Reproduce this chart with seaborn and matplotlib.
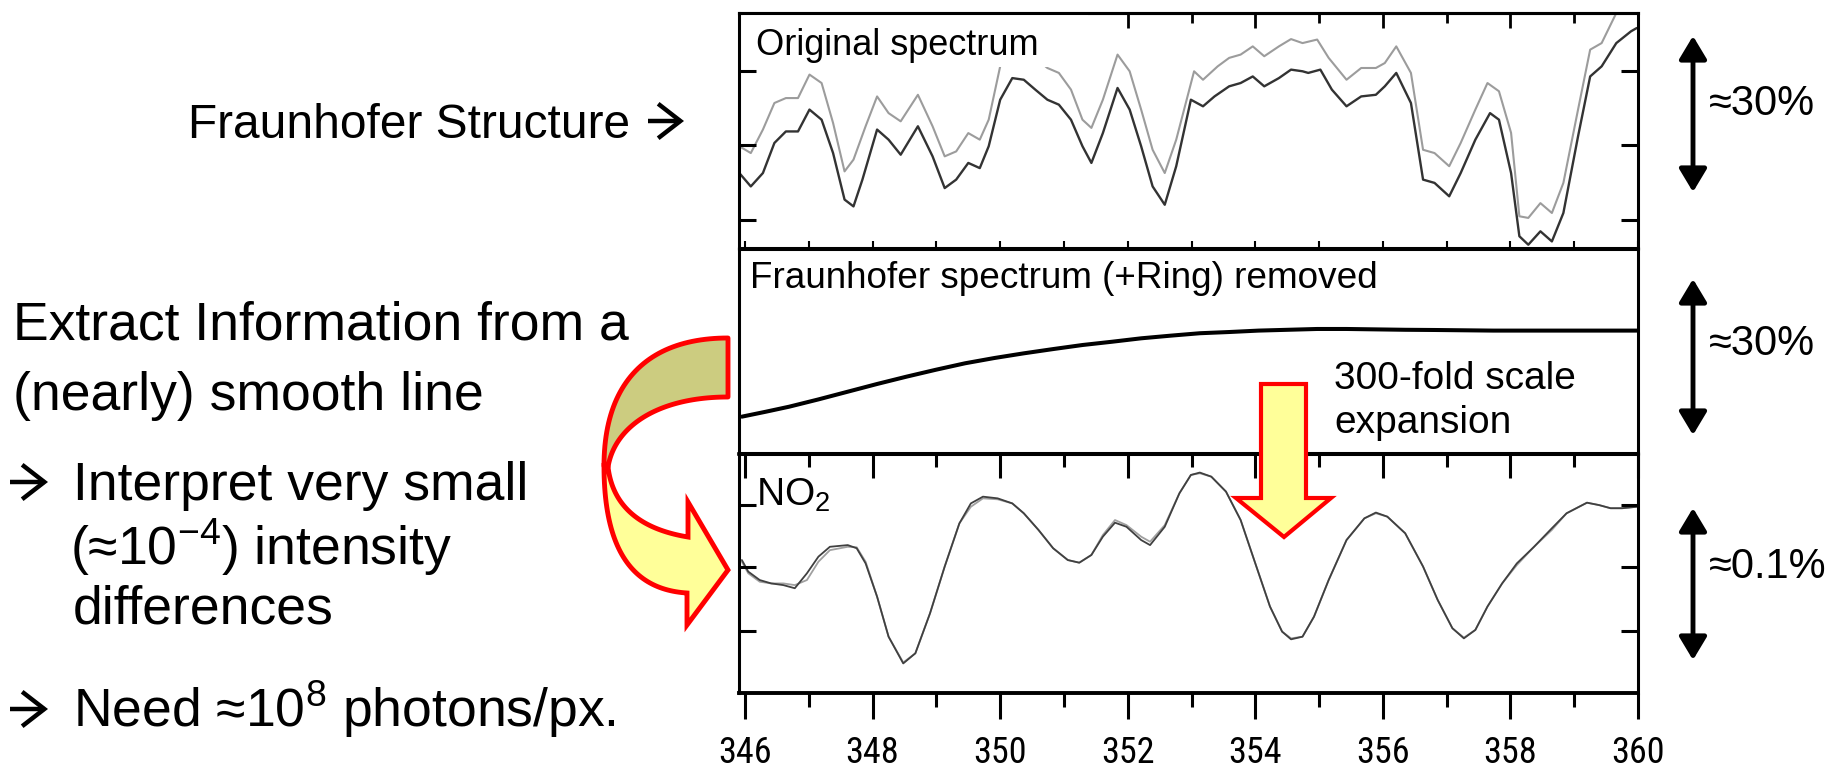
import numpy as np
import matplotlib
matplotlib.use("Agg")
import matplotlib.pyplot as plt
from matplotlib import font_manager as fm
from matplotlib.font_manager import FontProperties
from matplotlib.patches import Polygon, Rectangle
from matplotlib.ticker import NullFormatter
from math import comb
import seaborn as sns

# ---------------- data ----------------
# Panel 1: original spectrum (dark = measured, light = reference), relative units
wl_orig = [345.91, 346.09, 346.28, 346.46, 346.64, 346.83, 347.01, 347.20, 347.38, 347.56,
           347.70, 347.84, 348.07, 348.25, 348.44, 348.71, 348.94, 349.13, 349.31, 349.50,
           349.68, 349.82, 350.00, 350.19, 350.37, 350.55, 350.74, 350.92, 351.11, 351.29,
           351.43, 351.61, 351.84, 352.03, 352.21, 352.39, 352.58, 352.76, 352.99, 353.18,
           353.36, 353.59, 353.77, 353.96, 354.14, 354.37, 354.56, 354.74, 354.83, 355.02,
           355.20, 355.43, 355.66, 355.89, 356.03, 356.21, 356.44, 356.63, 356.81, 357.04,
           357.22, 357.45, 357.68, 357.82, 358.01, 358.14, 358.28, 358.47, 358.65, 358.83,
           359.06, 359.25, 359.43, 359.66, 359.89, 359.98]
orig_dark = [31.9, 26.2, 31.9, 44.7, 49.6, 49.6, 58.9, 54.6, 40.4, 20.6,
             17.7, 29.1, 50.4, 46.1, 39.7, 51.8, 39.0, 25.5, 29.1, 36.2,
             34.0, 43.3, 63.1, 72.3, 71.6, 67.4, 63.1, 61.0, 54.6, 43.3,
             36.2, 48.9, 68.1, 58.9, 43.3, 26.2, 18.4, 34.8, 63.1, 60.3,
             64.5, 68.8, 70.2, 73.0, 68.8, 72.3, 75.9, 75.2, 74.5, 75.9,
             67.4, 60.3, 64.5, 65.2, 68.8, 74.5, 61.7, 29.1, 27.7, 22.0,
             31.9, 46.1, 57.4, 54.6, 31.9, 5.0, 1.4, 7.1, 2.8, 14.9,
             47.5, 73.0, 77.3, 87.2, 92.2, 93.6]
wl_orig_light = [345.91, 346.09, 346.28, 346.46, 346.64, 346.83, 347.01, 347.20, 347.38, 347.56,
                 347.70, 347.89, 348.07, 348.25, 348.44, 348.71, 348.94, 349.13, 349.31, 349.50,
                 349.68, 349.82, 350.00, 350.19, 350.37, 350.55, 350.74, 350.92, 351.11, 351.29,
                 351.43, 351.61, 351.84, 352.03, 352.21, 352.39, 352.58, 352.76, 353.04, 353.18,
                 353.41, 353.59, 353.77, 353.96, 354.14, 354.37, 354.56, 354.74, 354.97, 355.15,
                 355.43, 355.66, 355.89, 356.03, 356.21, 356.44, 356.63, 356.81, 357.04, 357.22,
                 357.45, 357.64, 357.82, 358.01, 358.14, 358.28, 358.47, 358.65, 358.83, 359.06,
                 359.25, 359.43, 359.66, 359.85]
orig_light = [43.3, 40.4, 50.4, 61.7, 63.8, 63.8, 73.8, 70.2, 53.2, 32.6,
              37.6, 51.8, 64.5, 57.4, 53.9, 65.2, 51.8, 39.0, 41.1, 48.9,
              46.1, 54.6, 77.3, 85.8, 85.1, 80.9, 76.6, 74.5, 67.4, 54.6,
              51.1, 63.1, 82.3, 75.2, 58.9, 41.8, 31.9, 46.1, 75.2, 71.6,
              77.3, 80.9, 82.3, 85.8, 81.6, 85.8, 88.9, 87.2, 88.7, 80.9,
              71.6, 76.6, 76.6, 78.7, 85.8, 74.5, 41.8, 40.4, 34.8, 44.7,
              58.9, 70.2, 66.7, 49.0, 13.5, 12.8, 19.1, 14.9, 27.7, 58.9,
              84.4, 87.2, 100.0, 109.9]

# Panel 2: Fraunhofer spectrum (+Ring) removed
wl_resid = [345.95, 346.32, 346.69, 347.15, 347.61, 348.07, 348.53, 348.99, 349.45, 349.91,
            350.37, 350.83, 351.29, 351.75, 352.21, 352.67, 353.13, 353.59, 354.05, 354.51,
            354.97, 355.43, 355.89, 356.35, 356.81, 357.73, 358.65, 359.98]
resid = [17.9, 20.3, 22.8, 26.4, 30.2, 34.0, 37.6, 41.0, 44.2, 46.8,
         49.1, 51.2, 53.2, 54.8, 56.5, 57.8, 59.0, 59.6, 60.3, 60.7,
         61.1, 61.1, 60.9, 60.7, 60.6, 60.3, 60.3, 60.3]

# Panel 3: NO2 (measured and fitted)
wl_no2 = [345.95, 346.05, 346.23, 346.41, 346.60, 346.78, 346.97, 347.15, 347.33, 347.61,
          347.75, 347.89, 348.07, 348.25, 348.48, 348.67, 348.90, 349.13, 349.36, 349.54,
          349.73, 349.96, 350.19, 350.37, 350.60, 350.83, 351.06, 351.24, 351.43, 351.61,
          351.80, 351.98, 352.21, 352.35, 352.58, 352.81, 352.99, 353.13, 353.31, 353.54,
          353.77, 354.00, 354.23, 354.42, 354.56, 354.74, 354.92, 355.15, 355.43, 355.71,
          355.89, 356.07, 356.35, 356.63, 356.86, 357.09, 357.27, 357.45, 357.64, 357.87,
          358.10, 358.37, 358.65, 358.88, 359.20, 359.39, 359.57, 359.75, 359.98]
no2_meas = [56.0, 51.2, 47.7, 46.3, 45.6, 44.3, 50.5, 57.4, 61.5, 62.2,
            60.9, 54.6, 40.8, 24.2, 13.1, 17.3, 33.9, 53.3, 71.2, 79.5,
            82.3, 81.6, 79.5, 75.4, 68.5, 60.9, 56.0, 54.9, 58.1, 65.7,
            71.5, 69.8, 64.3, 62.2, 69.8, 83.7, 91.3, 92.3, 90.6, 84.4,
            72.6, 54.6, 36.7, 26.3, 23.1, 24.2, 32.5, 47.7, 64.3, 73.3,
            75.7, 74.0, 67.1, 53.3, 39.4, 27.7, 23.5, 27.0, 36.7, 46.3,
            54.6, 61.5, 69.2, 75.4, 79.8, 78.8, 77.5, 77.5, 78.1]
no2_fit = [55.3, 50.5, 47.0, 46.3, 46.3, 45.6, 47.7, 55.3, 60.1, 61.5,
           61.3, 55.3, 40.8, 24.2, 13.5, 17.3, 33.9, 53.3, 71.2, 78.1,
           81.6, 81.2, 79.5, 75.4, 68.5, 60.9, 56.0, 54.9, 58.1, 66.4,
           72.6, 70.5, 65.7, 63.6, 70.5, 83.7, 91.3, 92.0, 90.6, 84.4,
           72.6, 54.6, 36.7, 26.3, 23.5, 24.2, 32.5, 47.7, 64.3, 73.3,
           75.4, 74.0, 67.1, 53.3, 39.4, 27.7, 23.8, 27.0, 36.7, 46.3,
           53.9, 61.5, 68.5, 75.4, 79.8, 78.8, 77.5, 77.5, 78.1]

x_major = [346, 348, 350, 352, 354, 356, 358, 360]
x_minor = [347, 349, 351, 353, 355, 357, 359]
x_labels = ["346", "348", "350", "352", "354", "356", "358", "360"]

# ---------------- style ----------------
sns.set_theme(style="white")
plt.rcParams["font.family"] = ["Liberation Sans", "DejaVu Sans"]
plt.rcParams["mathtext.default"] = "regular"
plt.rcParams["axes.edgecolor"] = "black"
plt.rcParams["xtick.color"] = "black"
plt.rcParams["ytick.color"] = "black"
plt.rcParams["text.color"] = "black"


def find_narrow():
    fl = fm.fontManager.ttflist
    prefs = [("Liberation Sans Narrow", 29), ("Arial Narrow", 29), ("Roboto Condensed", 26),
             ("Open Sans Condensed", 25), ("Noto Sans Condensed", 25), ("DejaVu Sans Condensed", 25)]
    for name, size in prefs:
        for f in fl:
            if f.name == name and f.style == "normal" and f.weight in (400, "normal", "regular"):
                return f.fname, size
    for f in fl:
        if (f.stretch in ("condensed", "semi-condensed") and f.style == "normal"
                and f.weight in (400, "normal", "regular")
                and "Mono" not in f.name and "Serif" not in f.name):
            return f.fname, 25
    return None, None


narrow_file, narrow_size = find_narrow()
if narrow_file:
    tick_fp = FontProperties(fname=narrow_file, size=narrow_size)
else:
    tick_fp = FontProperties(family="Liberation Sans", size=25)

W, H = 1843, 773
fig = plt.figure(figsize=(W / 100, H / 100), dpi=100)
fig.patch.set_facecolor("white")

L, WD = 739 / W, 899 / W
ax1 = fig.add_axes([L, 1 - 248 / H, WD, 235 / H])
ax2 = fig.add_axes([L, 1 - 453 / H, WD, 204 / H])
ax3 = fig.add_axes([L, 1 - 693 / H, WD, 239 / H])
XL = (345.905, 360.0)

# ---- panel 1 ----
sns.lineplot(x=wl_orig_light, y=orig_light, ax=ax1, color="#9c9c9c", linewidth=1.5,
             estimator=None, sort=False)
sns.lineplot(x=wl_orig, y=orig_dark, ax=ax1, color="#333333", linewidth=1.7,
             estimator=None, sort=False)
ax1.add_patch(Rectangle((0.004, 0.77), 0.384, 0.226, transform=ax1.transAxes,
                        fc="white", ec="none", zorder=2.2))
ax1.set_ylim(0, 100)

# ---- panel 2 ----
sns.lineplot(x=wl_resid, y=resid, ax=ax2, color="black", linewidth=2.9,
             estimator=None, sort=False)
ax2.set_ylim(0, 100.5)

# ---- panel 3 ----
sns.lineplot(x=wl_no2, y=no2_fit, ax=ax3, color="#a0a0a0", linewidth=1.3,
             estimator=None, sort=False)
sns.lineplot(x=wl_no2, y=no2_meas, ax=ax3, color="#404040", linewidth=1.3,
             estimator=None, sort=False)
ax3.set_ylim(0.83, 100)

for ax in (ax1, ax2, ax3):
    ax.set_xlim(*XL)
    ax.set_xlabel("")
    ax.set_ylabel("")
    ax.set_axisbelow(False)
    for s in ax.spines.values():
        s.set_visible(True)
        s.set_color("black")
        s.set_linewidth(2.2)

# panel 1 ticks
ax1.set_xticks(x_major)
ax1.set_xticks(x_minor, minor=True)
ax1.xaxis.set_major_formatter(NullFormatter())
ax1.tick_params(axis="x", which="both", direction="in", bottom=True, top=False,
                length=5, width=1.5, labelbottom=False)
ax1.set_yticks([75.3, 43.8, 11.9])
ax1.yaxis.set_major_formatter(NullFormatter())
ax1.tick_params(axis="y", direction="in", left=True, right=True, length=12, width=2.2)
sec1 = ax1.secondary_xaxis("top")
sec1.set_xticks(x_major)
sec1.set_xticks(x_minor, minor=True)
sec1.xaxis.set_major_formatter(NullFormatter())
sec1.tick_params(which="major", direction="in", length=11, width=2)
sec1.tick_params(which="minor", direction="in", length=7, width=2)
sec1.spines["top"].set_linewidth(2.2)
sec1.spines["top"].set_color("black")

# panel 2: no ticks
ax2.set_xticks([])
ax2.set_yticks([])

# panel 3 ticks
ax3.set_xticks(x_major)
ax3.set_xticklabels(x_labels)
ax3.set_xticks(x_minor, minor=True)
ax3.tick_params(axis="x", which="major", direction="out", bottom=True, top=False,
                length=19, width=2.2, pad=11.5)
ax3.tick_params(axis="x", which="minor", direction="out", bottom=True, top=False,
                length=10, width=2.2)
for lab in ax3.get_xticklabels():
    lab.set_fontproperties(tick_fp)
ax3.set_yticks([78.8, 53.1, 26.6])
ax3.yaxis.set_major_formatter(NullFormatter())
ax3.tick_params(axis="y", direction="in", left=True, right=True, length=12, width=2.2)
ax3.spines["bottom"].set_linewidth(2.8)
sec3 = ax3.secondary_xaxis("top")
sec3.set_xticks(x_major)
sec3.set_xticks(x_minor, minor=True)
sec3.xaxis.set_major_formatter(NullFormatter())
sec3.tick_params(which="major", direction="in", length=17, width=2.2)
sec3.tick_params(which="minor", direction="in", length=9, width=2.2)
sec3.spines["top"].set_linewidth(2.6)
sec3.spines["top"].set_color("black")

# ---------------- overlay (annotations in pixel coordinates) ----------------
ov = fig.add_axes([0, 0, 1, 1], zorder=10)
ov.set_xlim(0, W)
ov.set_ylim(H, 0)
ov.axis("off")

# panel captions
ov.text(756, 55, "Original spectrum", fontsize=26, ha="left", va="baseline")
ov.text(750, 288, "Fraunhofer spectrum (+Ring) removed", fontsize=26.6, ha="left", va="baseline")
ov.text(1334, 389, "300-fold scale", fontsize=28, ha="left", va="baseline")
ov.text(1334, 433, "expansion", fontsize=28, ha="left", va="baseline")
ov.text(756, 506, "NO$_2$", fontsize=28, ha="left", va="baseline")


def text_arrow(x0, x1, y):
    ov.annotate("", xy=(x1, y), xytext=(x0, y),
                arrowprops=dict(arrowstyle="->,head_length=0.8,head_width=0.62",
                                color="black", lw=3.2, shrinkA=0, shrinkB=0,
                                mutation_scale=20, joinstyle="miter", capstyle="butt"))


# left-hand text
big = 38.5
ov.text(188, 138, "Fraunhofer Structure", fontsize=34.5, ha="left", va="baseline")
text_arrow(648, 684, 121)
ov.text(13, 340, "Extract Information from a", fontsize=big, ha="left", va="baseline")
ov.text(13, 410, "(nearly) smooth line", fontsize=big, ha="left", va="baseline")
text_arrow(10, 48, 482)
ov.text(73, 500, "Interpret very small", fontsize=big, ha="left", va="baseline")
ov.text(70, 565, "(\u224810$^{-4}$) intensity", fontsize=big, ha="left", va="baseline")
ov.text(73, 624, "differences", fontsize=big, ha="left", va="baseline")
text_arrow(10, 48, 709)
ov.text(73, 727, "Need \u224810$^{8}$ photons/px.", fontsize=big, ha="left", va="baseline")

# right-hand scale arrows
for (y0, y1), lab, yb in [((36, 192), "\u224830%", 115),
                          ((279, 435), "\u224830%", 355),
                          ((508, 660), "\u22480.1%", 578)]:
    ov.annotate("", xy=(1693, y0), xytext=(1693, y1),
                arrowprops=dict(arrowstyle="<|-|>,head_length=1.0,head_width=0.6",
                                color="black", lw=3.5, shrinkA=0, shrinkB=0,
                                mutation_scale=14))
    ov.text(1709, yb, lab, fontsize=30, ha="left", va="baseline")

# yellow block arrow (scale expansion)
ov.add_patch(Polygon([(1261, 384), (1306, 384), (1306, 498), (1331, 498), (1284, 537),
                      (1236, 498), (1261, 498)], closed=True, fc="#FFFF99", ec="#FF0000",
                     lw=3, joinstyle="miter"))


def bez(pts, n=50):
    p = np.asarray(pts, float)
    k = len(p) - 1
    t = np.linspace(0, 1, n)[:, None]
    return sum(comb(k, i) * (1 - t) ** (k - i) * t ** i * p[i] for i in range(k + 1))


olive = np.vstack([bez([(728, 338), (650, 338), (604, 380), (604, 466)]),
                   bez([(608, 467), (615, 425), (660, 397), (728, 397)])])
yellow = np.vstack([bez([(604, 466), (604, 560), (640, 590), (687, 593)]),
                    np.array([(687, 625), (728, 570), (688, 502), (688, 537)], float),
                    bez([(688, 537), (615, 525), (608, 467)])])
ov.add_patch(Polygon(olive, closed=True, fc="#CCCC80", ec="#FF0000", lw=3.5, joinstyle="round"))
ov.add_patch(Polygon(yellow, closed=True, fc="#FFFF99", ec="#FF0000", lw=3.5, joinstyle="miter"))

fig.savefig("out.png", dpi=100, facecolor="white")
